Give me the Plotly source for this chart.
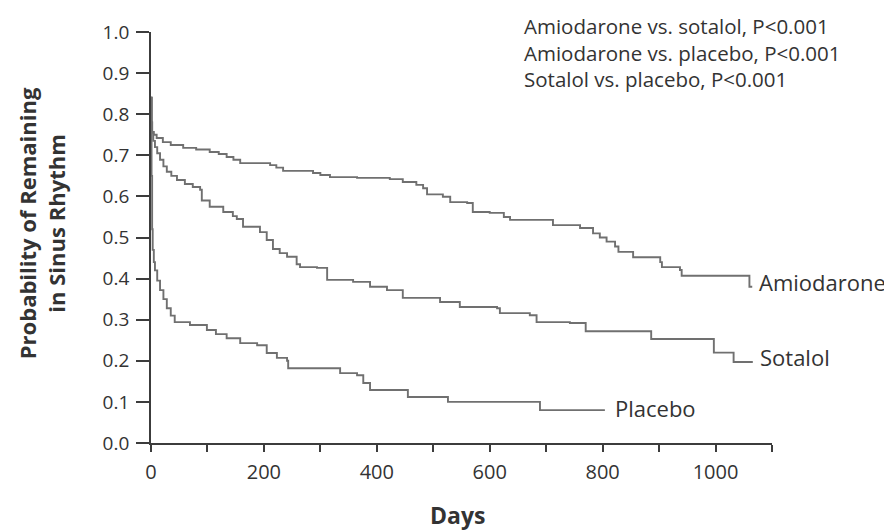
import plotly.graph_objects as go

# ---- data ----
amio_days = [0, 1, 2, 5, 10, 21, 35, 57, 80, 104, 120, 134, 146, 158, 211, 222, 234, 287, 300, 317,
             365, 423, 446, 470, 482, 489, 517, 530, 560, 570, 600, 625, 636, 707, 712, 760, 783, 795,
             807, 822, 828, 854, 902, 905, 937, 940, 1060, 1065]
amio_surv = [0.84, 0.78, 0.757, 0.750, 0.742, 0.732, 0.725, 0.718, 0.714, 0.708, 0.703, 0.696, 0.689,
             0.681, 0.676, 0.670, 0.662, 0.657, 0.652, 0.647, 0.645, 0.642, 0.635, 0.628, 0.620, 0.605,
             0.599, 0.586, 0.584, 0.562, 0.560, 0.550, 0.543, 0.543, 0.530, 0.523, 0.510, 0.500, 0.490,
             0.478, 0.465, 0.452, 0.440, 0.428, 0.421, 0.407, 0.380, 0.380]

sota_days = [0, 1, 2, 4, 7, 11, 16, 22, 28, 36, 46, 60, 74, 87, 90, 104, 128, 145, 152, 163, 193, 205,
             216, 228, 241, 258, 264, 294, 312, 358, 388, 418, 446, 512, 547, 613, 618, 671, 683, 742,
             770, 886, 997, 1032, 1066]
sota_surv = [0.84, 0.78, 0.755, 0.735, 0.720, 0.705, 0.689, 0.673, 0.660, 0.650, 0.640, 0.630, 0.623,
             0.616, 0.590, 0.575, 0.562, 0.552, 0.545, 0.526, 0.513, 0.494, 0.472, 0.462, 0.453, 0.435,
             0.428, 0.426, 0.397, 0.392, 0.380, 0.372, 0.353, 0.343, 0.331, 0.328, 0.316, 0.311, 0.294,
             0.292, 0.272, 0.253, 0.220, 0.197, 0.197]

plac_days = [0, 1, 2, 3, 5, 7, 11, 16, 22, 28, 35, 42, 69, 99, 115, 134, 158, 188, 205, 223, 241, 243,
             335, 365, 376, 388, 455, 526, 689, 804]
plac_surv = [0.84, 0.65, 0.52, 0.47, 0.44, 0.42, 0.395, 0.372, 0.350, 0.328, 0.310, 0.294, 0.287, 0.275,
             0.265, 0.255, 0.243, 0.238, 0.219, 0.207, 0.200, 0.182, 0.170, 0.165, 0.146, 0.129, 0.112,
             0.100, 0.080, 0.080]

series_names = ["Amiodarone", "Sotalol", "Placebo"]
label_pos = [(1073, 0.392), (1076, 0.21), (819, 0.085)]

x_tickvals = [0, 100, 200, 300, 400, 500, 600, 700, 800, 900, 1000, 1100]
x_ticktext = ["0", "", "200", "", "400", "", "600", "", "800", "", "1000", ""]
y_tickvals = [0.0, 0.1, 0.2, 0.3, 0.4, 0.5, 0.6, 0.7, 0.8, 0.9, 1.0]
y_ticktext = ["0.0", "0.1", "0.2", "0.3", "0.4", "0.5", "0.6", "0.7", "0.8", "0.9", "1.0"]

pvalue_lines = ["Amiodarone vs. sotalol, P<0.001",
                "Amiodarone vs. placebo, P<0.001",
                "Sotalol vs. placebo, P<0.001"]

# ---- styling ----
FONT = "Open Sans"
TEXT = "#333333"
CURVE = "#707070"
AXIS = "#3c3c3c"

fig = go.Figure()
for name, xs, ys in zip(series_names,
                        [amio_days, sota_days, plac_days],
                        [amio_surv, sota_surv, plac_surv]):
    fig.add_trace(go.Scatter(x=xs, y=ys, mode="lines", name=name,
                             line=dict(color=CURVE, width=1.9, shape="hv"),
                             showlegend=False, hoverinfo="skip"))

annotations = []
for name, (lx, ly) in zip(series_names, label_pos):
    annotations.append(dict(x=lx, y=ly, xref="x", yref="y", text=name, showarrow=False,
                            xanchor="left", yanchor="middle",
                            font=dict(family=FONT, size=22, color=TEXT)))

# p-value block (one multi-line text); plot-area top is at 32 px, height 411 px
annotations.append(dict(x=0.597, y=0.951, xref="paper", yref="paper",
                        text="<br>".join(pvalue_lines), showarrow=False,
                        xanchor="left", yanchor="middle", align="left",
                        font=dict(family=FONT, size=20.5, color=TEXT)))

annotations.append(dict(x=-0.177, y=0.535, xref="paper", yref="paper",
                        text="<b>Probability of Remaining</b><br><b>in Sinus Rhythm</b>",
                        showarrow=False, textangle=-90, xanchor="center", yanchor="middle",
                        font=dict(family=FONT, size=22, color=TEXT)))
annotations.append(dict(x=0.493, y=-0.175, xref="paper", yref="paper", text="<b>Days</b>",
                        showarrow=False, xanchor="center", yanchor="middle",
                        font=dict(family=FONT, size=23, color=TEXT)))

# page body has an 8px default margin; margins compensate so the plot area lands at 151..772 x 32..443
fig.update_layout(
    width=892, height=532,
    margin=dict(l=143, r=128, t=24, b=97),
    paper_bgcolor="white", plot_bgcolor="white",
    font=dict(family=FONT, size=19, color=TEXT),
    annotations=annotations,
    xaxis=dict(range=[0, 1100], tickvals=x_tickvals, ticktext=x_ticktext,
               showgrid=False, zeroline=False, showline=True, linecolor=AXIS, linewidth=1.8,
               ticks="outside", ticklen=7, tickwidth=1.5, tickcolor=AXIS,
               tickfont=dict(family=FONT, size=20, color=TEXT), ticklabelstandoff=3),
    yaxis=dict(range=[0, 1.0], tickvals=y_tickvals, ticktext=y_ticktext,
               showgrid=False, zeroline=False, showline=True, linecolor=AXIS, linewidth=1.8,
               ticks="outside", ticklen=13, tickwidth=1.5, tickcolor=AXIS,
               tickfont=dict(family=FONT, size=19, color=TEXT), ticklabelstandoff=3),
)

fig.write_html("out.html")
